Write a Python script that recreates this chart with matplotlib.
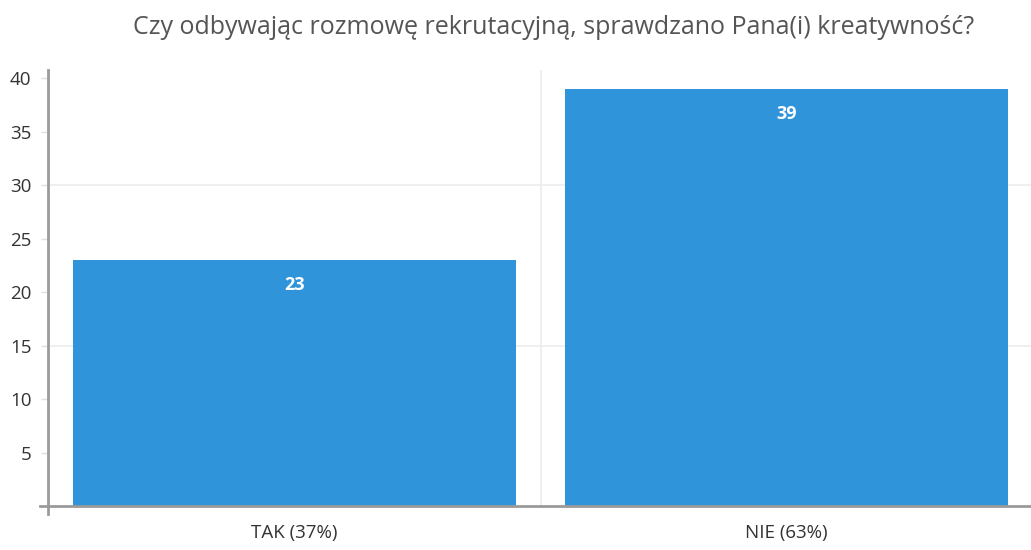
import matplotlib
matplotlib.use("Agg")
import matplotlib.pyplot as plt
from matplotlib.ticker import FixedLocator

plt.rcParams['font.family'] = ['Open Sans', 'DejaVu Sans']

title = "Czy odbywając rozmowę rekrutacyjną, sprawdzano Pana(i) kreatywność?"
categories = ["TAK (37%)", "NIE (63%)"]
values = [23, 39]
yticks = [5, 10, 15, 20, 25, 30, 35, 40]

W, H = 1031, 550
fig = plt.figure(figsize=(W / 100, H / 100), dpi=100)
ax = fig.add_axes([48 / W, (H - 506) / H, 985 / W, 436 / H])

bar_color = "#3094DB"
x = range(len(categories))
bars = ax.bar(x, values, width=0.9, color=bar_color, zorder=3)

ax.set_xlim(-0.5, 1.5)
ax.set_ylim(0, 40.75)

# value labels inside the top of each bar
for b, v in zip(bars, values):
    ax.annotate(str(v), (b.get_x() + b.get_width() / 2, v), xytext=(0, -25),
                textcoords="offset pixels",
                ha="center", va="center", color="white", fontsize=13,
                fontweight="bold", zorder=4)

# grid: horizontal at 15 and 30, vertical between categories
for gy in (15, 30):
    ax.axhline(gy, color="#ececec", lw=1.2, zorder=1)
ax.axvline(0.5, color="#ececec", lw=1.2, zorder=1)

ax.set_xticks(list(x))
ax.set_xticklabels(categories)
ax.yaxis.set_major_locator(FixedLocator(yticks))
ax.tick_params(axis="x", length=0, pad=13, labelsize=13.5, labelcolor="#333333")
ax.tick_params(axis="y", length=5, width=1, color="#e0e0e0", pad=7,
               labelsize=13.5, labelcolor="#333333")

for side in ("top", "right"):
    ax.spines[side].set_visible(False)
ax.spines["left"].set_color("#9a9a9a")
ax.spines["left"].set_linewidth(2)
ax.spines["bottom"].set_color("#9a9a9a")
ax.spines["bottom"].set_linewidth(2)
ax.spines["bottom"].set_zorder(5)

# small overhangs where the axes meet
trans = ax.transAxes
ax.plot([-8 / 985, 0], [0, 0], transform=trans, color="#9a9a9a", lw=2, clip_on=False)
ax.plot([0, 0], [0, -8 / 436], transform=trans, color="#9a9a9a", lw=2, clip_on=False)

fig.text(554 / W, 1 - 28 / H, title, ha="center", va="center",
         fontsize=18, color="#555555")

fig.savefig("out.png", dpi=100)
